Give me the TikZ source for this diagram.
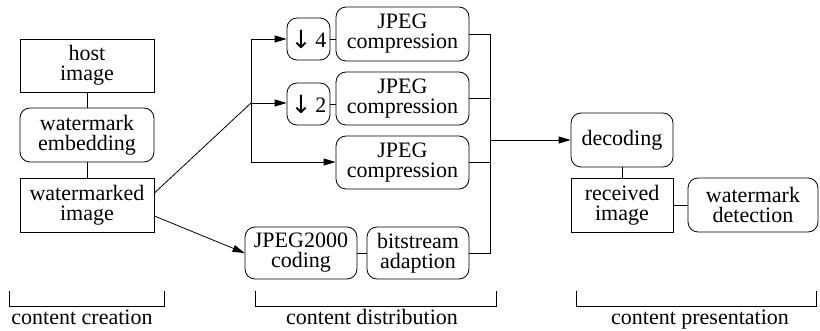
\documentclass[tikz,border=0pt]{standalone}
\usepackage{fontspec}
\setmainfont{Liberation Serif}
\newfontfamily\arrowfont{DejaVu Sans}
\usetikzlibrary{arrows.meta}
\begin{document}
\begin{tikzpicture}[x=1pt,y=-1pt,
  every node/.style={font=\fontsize{22}{20}\selectfont, align=center, inner sep=0pt},
  sqbox/.style={draw, line width=0.8pt, rectangle},
  rbox/.style={draw, line width=0.8pt, rectangle, rounded corners=10pt},
  conn/.style={line width=0.8pt},
  arr/.style={line width=0.8pt, -{Triangle[length=12pt,width=7pt]}},
  lbl/.style={anchor=base}]
\useasboundingbox (0,0) rectangle (820,331);
% left column
\node[sqbox, minimum width=134pt, minimum height=53pt] (host) at (87,65.5) {host\\image};
\node[rbox, minimum width=134pt, minimum height=54pt] (embed) at (87,135) {watermark\\embedding};
\node[sqbox, minimum width=134pt, minimum height=54pt] (wm) at (87,205) {watermarked\\image};
\draw[conn] (host) -- (embed);
\draw[conn] (embed) -- (wm);
% middle
\node[rbox, minimum width=43pt, minimum height=42pt] (d4) at (308.5,39) {{\arrowfont\fontsize{25}{20}\selectfont\raisebox{-1pt}{↓}}\,4};
\node[rbox, minimum width=133pt, minimum height=54pt] (j1) at (402.5,34) {JPEG\\compression};
\node[rbox, minimum width=43pt, minimum height=42pt] (d2) at (308.5,104) {{\arrowfont\fontsize{25}{20}\selectfont\raisebox{-1pt}{↓}}\,2};
\node[rbox, minimum width=133pt, minimum height=53pt] (j2) at (402.5,98.5) {JPEG\\compression};
\node[rbox, minimum width=133pt, minimum height=53pt] (j3) at (402.5,162.5) {JPEG\\compression};
\node[rbox, minimum width=112pt, minimum height=52pt] (jk) at (301,253) {JPEG2000\\coding};
\node[rbox, minimum width=102pt, minimum height=52pt] (bs) at (418,253) {bitstream\\adaption};
\draw[conn] (d4.east) -- (d4.east -| j1.west);
\draw[conn] (d2.east) -- (d2.east -| j2.west);
\draw[conn] (jk) -- (bs);
% branch
\coordinate (bt) at (251,39);
\coordinate (bm) at (251,103);
\coordinate (bb) at (251,162);
\draw[conn] (wm.east |- 0,193) -- (bm);
\draw[conn] (bt) -- (bb);
\draw[arr] (bt) -- (d4.west |- bt);
\draw[arr] (bm) -- (d2.west |- bm);
\draw[arr] (bb) -- (j3.west |- bb);
\draw[arr] (wm.east |- 0,216) -- (jk.west);
% collector
\coordinate (ct) at (490,34);
\coordinate (cm) at (490,140);
\coordinate (cb) at (490,253);
\draw[conn] (j1.east) -- (ct) -- (cb) -- (bs.east);
\draw[conn] (j2.east) -- (j2.east -| ct);
\draw[conn] (j3.east) -- (j3.east -| ct);
% right
\node[rbox, minimum width=102pt, minimum height=54pt] (dec) at (622,140) {decoding};
\node[sqbox, minimum width=102pt, minimum height=54pt] (rec) at (622,205) {received\\image};
\node[rbox, minimum width=130pt, minimum height=54pt] (det) at (753,205) {watermark\\detection};
\draw[arr] (cm) -- (dec.west |- cm);
\draw[conn] (dec) -- (rec);
\draw[conn] (rec) -- (det);
% brackets
\draw[conn] (9,291) -- (9,306) -- (164,306) -- (164,291);
\draw[conn] (255,291) -- (255,306) -- (496,306) -- (496,291);
\draw[conn] (576,291) -- (576,306) -- (816,306) -- (816,291);
\node[lbl] (l1) at (82,325) {content creation};
\node[lbl] (l2) at (372,325) {content distribution};
\node[lbl] (l3) at (700,325) {content presentation};
\end{tikzpicture}
\end{document}
